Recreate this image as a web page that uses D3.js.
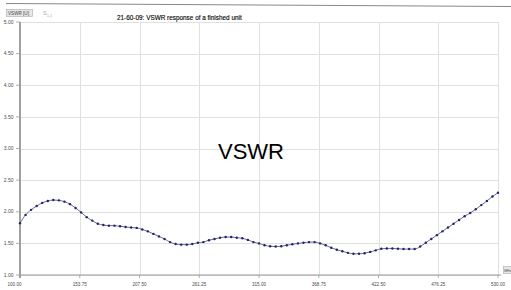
<!DOCTYPE html>
<html>
<head>
<meta charset="utf-8">
<script src="https://cdn.jsdelivr.net/npm/d3@7"></script>
<style>
  body { margin: 0; background: #fff; }
  svg { font-family: "Liberation Sans", Arial, sans-serif; display: block; }
  .grid line { stroke: #e0e0e0; stroke-width: 1; }
  .ylab, .xlab { fill: #4a4a4a; }
</style>
</head>
<body>
<div id="chart"></div>
<script>

var freqs = [100, 105, 110, 115, 120, 125, 130, 135, 140, 145,
             150, 155, 160, 165, 170, 175, 180, 185, 190, 195,
             200, 205, 210, 215, 220, 225, 230, 235, 240, 245,
             250, 255, 260, 265, 270, 275, 280, 285, 290, 295,
             300, 305, 310, 315, 320, 325, 330, 335, 340, 345,
             350, 355, 360, 365, 370, 375, 380, 385, 390, 395,
             400, 405, 410, 415, 420, 425, 430, 435, 440, 445,
             450, 455, 460, 465, 470, 475, 480, 485, 490, 495,
             500, 505, 510, 515, 520, 525, 530];

var vswr = [1.82, 1.95, 2.03, 2.09, 2.14, 2.17, 2.185, 2.18, 2.16, 2.12,
            2.06, 1.99, 1.915, 1.86, 1.81, 1.79, 1.78, 1.78, 1.77, 1.76,
            1.75, 1.745, 1.72, 1.69, 1.65, 1.61, 1.57, 1.52, 1.49, 1.48,
            1.48, 1.49, 1.51, 1.52, 1.55, 1.57, 1.59, 1.60, 1.60, 1.59,
            1.58, 1.555, 1.52, 1.50, 1.47, 1.455, 1.45, 1.455, 1.47, 1.485,
            1.50, 1.51, 1.52, 1.52, 1.50, 1.47, 1.43, 1.40, 1.375, 1.35,
            1.335, 1.335, 1.345, 1.365, 1.39, 1.415, 1.42, 1.42, 1.415, 1.41,
            1.41, 1.41, 1.45, 1.51, 1.57, 1.63, 1.69, 1.75, 1.81, 1.87,
            1.93, 1.98, 2.04, 2.105, 2.17, 2.24, 2.30];

var xTicks = [100, 153.75, 207.5, 261.25, 315, 368.75, 422.5, 476.25, 530];
var yTicks = [1, 1.5, 2, 2.5, 3, 3.5, 4, 4.5, 5];

var title = "21-60-09: VSWR response of a finished unit";

var width = 511,
    height = 290;

var svg = d3.select("#chart")
    .append("svg")
    .attr("width", width)
    .attr("height", height)

var x = d3.scaleLinear().domain([100, 530]).range([20, 498]),
    y = d3.scaleLinear().domain([1, 5]).range([275, 22]);

// frame line at top (slightly tilted in the scan)
svg.append("line")
    .attr("x1", 6).attr("y1", 3.5)
    .attr("x2", 511).attr("y2", 6.5)
    .style("stroke", "#888")
    .style("stroke-width", 1.2)

// header
svg.append("rect")
    .attr("x", 6.5).attr("y", 9.5)
    .attr("width", 26).attr("height", 7)
    .style("fill", "#e6e6e6")
    .style("stroke", "#aaa")
    .style("stroke-width", 0.6)

svg.append("text")
    .attr("x", 8).attr("y", 15)
    .style("font-size", "4.6px")
    .style("fill", "#444")
    .text("VSWR [U]")

svg.append("text")
    .attr("x", 43).attr("y", 15)
    .style("font-size", "5.5px")
    .style("fill", "#aaa")
    .html("S<tspan dy='1.5' style='font-size:4px'>1,1</tspan>")

svg.append("text")
    .attr("x", 117).attr("y", 20)
    .style("font-size", "6.4px")
    .style("fill", "#000")
    .style("stroke", "#000")
    .style("stroke-width", 0.12)
    .text(title)

// GRID
svg.append("g")
    .attr("class", "grid")
    .selectAll("line")
    .data(yTicks)
    .enter()
    .append("line")
    .attr("x1", x(100)).attr("x2", x(530))
    .attr("y1", function (d) { return Math.round(y(d)) + 0.5; })
    .attr("y2", function (d) { return Math.round(y(d)) + 0.5; })

svg.append("g")
    .attr("class", "grid")
    .selectAll("line")
    .data(xTicks.slice(1))
    .enter()
    .append("line")
    .attr("x1", function (d) { return Math.round(x(d)) + 0.5; })
    .attr("x2", function (d) { return Math.round(x(d)) + 0.5; })
    .attr("y1", y(5)).attr("y2", y(1))

// AXES
svg.append("line")
    .attr("x1", x(100)).attr("x2", 501)
    .attr("y1", y(1)).attr("y2", y(1))
    .style("stroke", "#999")
    .style("stroke-width", 1.2)

svg.append("line")
    .attr("x1", x(100)).attr("x2", x(100))
    .attr("y1", y(5)).attr("y2", y(1) + 3)
    .style("stroke", "#a0a0a0")
    .style("stroke-width", 2)

svg.append("g")
    .selectAll("line")
    .data(yTicks)
    .enter()
    .append("line")
    .attr("x1", 16).attr("x2", x(100))
    .attr("y1", function (d) { return y(d); })
    .attr("y2", function (d) { return y(d); })
    .style("stroke", "#999")
    .style("stroke-width", 0.8)

svg.append("g")
    .selectAll("line")
    .data(xTicks)
    .enter()
    .append("line")
    .attr("x1", function (d) { return x(d); })
    .attr("x2", function (d) { return x(d); })
    .attr("y1", y(1)).attr("y2", y(1) + 3)
    .style("stroke", "#999")
    .style("stroke-width", 0.8)

svg.append("g")
    .selectAll(".ylab")
    .data(yTicks)
    .enter()
    .append("text")
    .attr("class", "ylab")
    .attr("x", 13.5)
    .attr("y", function (d) { return y(d) + 1.7; })
    .style("font-size", "5px")
    .style("text-anchor", "end")
    .text(function (d) { return d3.format(".2f")(d); })

svg.append("g")
    .selectAll(".xlab")
    .data(xTicks)
    .enter()
    .append("text")
    .attr("class", "xlab")
    .attr("x", function (d, i) { return i === 0 ? x(d) - 5.5 : x(d); })
    .attr("y", 286)
    .style("font-size", "4.6px")
    .style("text-anchor", "middle")
    .text(function (d) { return d3.format(".2f")(d); })

// unit box at right end of x axis
svg.append("rect")
    .attr("x", 503.5).attr("y", 266.5)
    .attr("width", 8).attr("height", 7)
    .style("fill", "#e6e6e6")
    .style("stroke", "#aaa")
    .style("stroke-width", 0.6)

svg.append("text")
    .attr("x", 504.2).attr("y", 271.6)
    .style("font-size", "3.4px")
    .style("fill", "#444")
    .text("MHz")

// CURVE
var data = freqs.map(function (f, i) { return { f: f, v: vswr[i] }; });

var line = d3.line()
    .x(function (d) { return x(d.f); })
    .y(function (d) { return y(d.v); })
    .curve(d3.curveMonotoneX);

svg.append("path")
    .datum(data)
    .attr("d", line)
    .style("fill", "none")
    .style("stroke", "#6a6a9a")
    .style("stroke-width", 1)

svg.append("g")
    .selectAll(".dot")
    .data(data)
    .enter()
    .append("circle")
    .attr("class", "dot")
    .attr("cx", function (d) { return x(d.f); })
    .attr("cy", function (d) { return y(d.v); })
    .attr("r", 1.2)
    .style("fill", "#22226e")

// big label
svg.append("text")
    .attr("x", 251)
    .attr("y", 159)
    .style("font-size", "22px")
    .style("text-anchor", "middle")
    .style("fill", "#000")
    .text("VSWR")

</script>
</body>
</html>
